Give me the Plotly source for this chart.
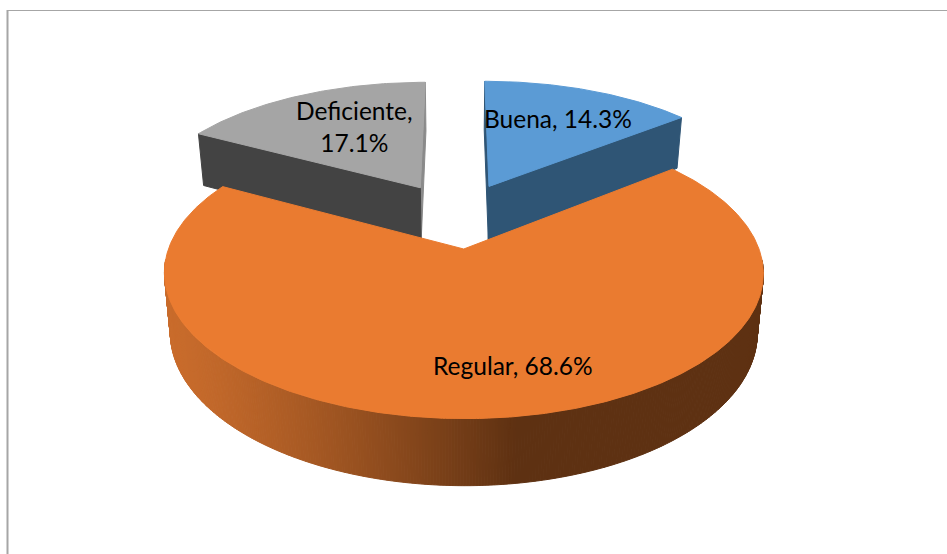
import numpy as np
import plotly.graph_objects as go

categorias = ['Buena', 'Regular', 'Deficiente']
valores = [14.3, 68.6, 17.1]
colores_top = ['#5B9BD5', '#EA7B30', '#A5A5A5']
colores_lado = ['#2F5575', '#C86C2C', '#434343']
colores_borde = ['#2F5575', '#5E3112', '#8A8A8A']
etiquetas = ['Buena, 14.3%', 'Regular, 68.6%', 'Deficiente,<br>17.1%']
etiqueta_x = [558, 513, 354.5]
etiqueta_y = [118, 365.5, 126]

# perspectiva del pastel
cx, cy = 457.5, 216.5
A, B, k = 284, 130.8, 0.16
prof, k_prof = 56.4, 0.128
esc_base = 0.98
explosion = [0.265, 0.24, 0.265]


def proyectar(wx, wy, abajo=False):
    den = 1 + k * wy
    x = A * wx / den
    y = cy - B * wy / den
    if abajo:
        x = x * esc_base
        y = y + prof / (1 + k_prof * wy)
    return cx + x, y


def color_gradiente(x):
    # el lado naranja oscurece de izquierda a derecha
    t = min(max((x - 170) / (517 - 170), 0), 1) ** 1.25
    c1 = np.array([201, 108, 44])
    c2 = np.array([94, 49, 18])
    c = c1 + (c2 - c1) * t
    return 'rgb(%d,%d,%d)' % tuple(c)


def poligono(fig, x, y, color, ancho=0):
    fig.add_trace(go.Scatter(x=list(x) + [x[0]], y=list(y) + [y[0]], mode='lines', fill='toself',
                             fillcolor=color, line=dict(color=color, width=ancho),
                             hoverinfo='skip', showlegend=False))


fig = go.Figure()

total = sum(valores)
inicio = np.cumsum([0] + valores[:-1]) / total * 2 * np.pi
fin = np.cumsum(valores) / total * 2 * np.pi

# orden de dibujo: gris, azul, naranja
for i in [2, 0, 1]:
    medio = (inicio[i] + fin[i]) / 2
    ex, ey = explosion[i] * np.sin(medio), explosion[i] * np.cos(medio)
    ang = np.linspace(inicio[i], fin[i], 500 if i == 1 else 80)
    wx = ex + np.sin(ang)
    wy = ey + np.cos(ang)

    x_top, y_top = proyectar(wx, wy)
    x_bot, y_bot = proyectar(wx, wy, abajo=True)
    ax_top, ay_top = proyectar(ex, ey)
    ax_bot, ay_bot = proyectar(ex, ey, abajo=True)

    if i == 1:
        # lado curvo con gradiente
        for j in range(len(ang) - 1):
            xm = (x_top[j] + x_top[j + 1]) / 2
            if y_top[j] < 260:
                continue
            c = color_gradiente(xm)
            poligono(fig, [x_top[j], x_top[j + 1], x_bot[j + 1], x_bot[j]],
                     [y_top[j], y_top[j + 1], y_bot[j + 1], y_bot[j]], c, 1)
    else:
        # paredes rectas de la porcion
        pared = -1 if i == 0 else 0
        borde = 0 if i == 0 else -1
        poligono(fig, [ax_top, x_top[borde], x_bot[borde], ax_bot],
                 [ay_top, y_top[borde], y_bot[borde], ay_bot], colores_borde[i], 1)
        poligono(fig, [ax_top, x_top[pared], x_bot[pared], ax_bot],
                 [ay_top, y_top[pared], y_bot[pared], ay_bot], colores_lado[i], 1)

    poligono(fig, [ax_top] + list(x_top), [ay_top] + list(y_top), colores_top[i], 1)

for t, x, y in zip(etiquetas, etiqueta_x, etiqueta_y):
    fig.add_annotation(x=x, y=y, text=t, showarrow=False, align='center',
                       font=dict(family='Lato', size=24.5, color='#000000'))

# marco de la imagen
fig.add_shape(type='line', x0=7.5, x1=7.5, y0=10, y1=554, line=dict(color='#A6A6A6', width=2))
fig.add_shape(type='line', x0=7, x1=947, y0=10.5, y1=10.5, line=dict(color='#A6A6A6', width=1))

fig.update_xaxes(range=[0, 947], visible=False, fixedrange=True)
fig.update_yaxes(range=[554, 0], visible=False, fixedrange=True)
fig.update_layout(width=947, height=554, margin=dict(l=0, r=0, t=0, b=0),
                  paper_bgcolor='white', plot_bgcolor='white', showlegend=False)

fig.write_html("out.html", config={'displayModeBar': False},
               post_script="document.body.style.margin='0';document.body.style.overflow='hidden';")
